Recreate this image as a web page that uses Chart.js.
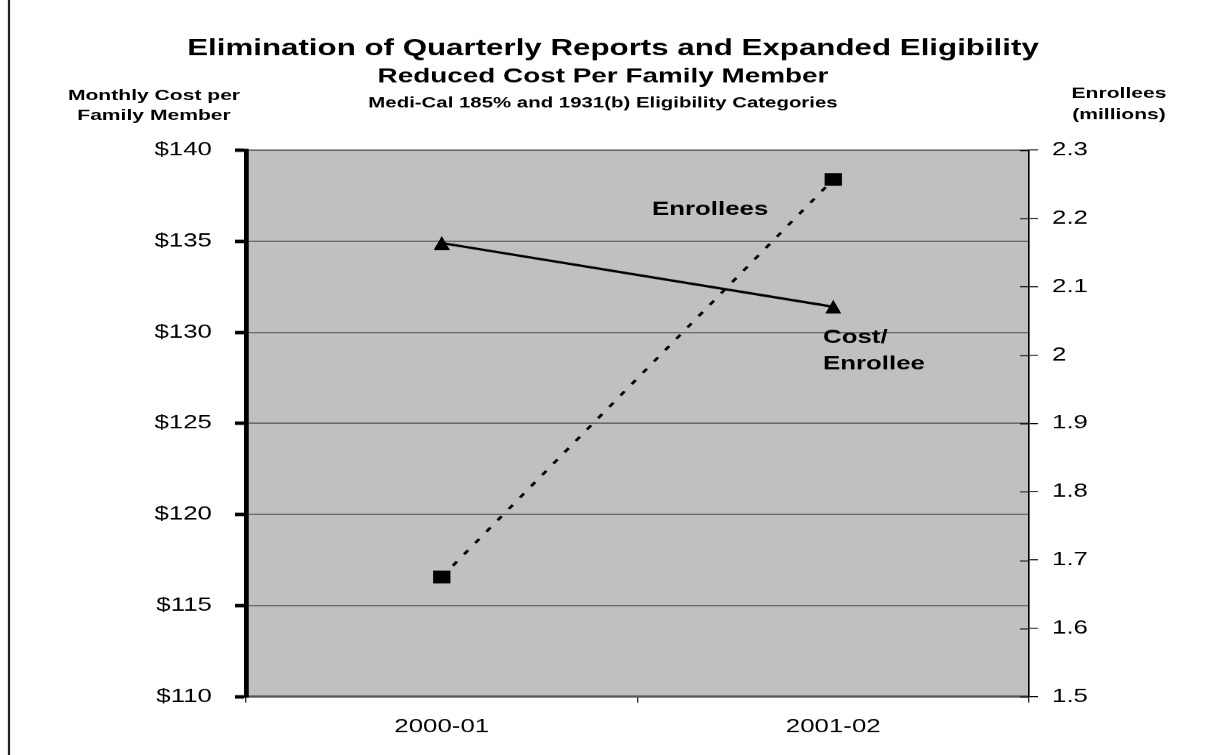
<!DOCTYPE html>
<html>
<head>
<meta charset="utf-8">
<script src="https://cdn.jsdelivr.net/npm/chart.js@4/dist/chart.umd.min.js"></script>
<style>
  html, body { margin: 0; padding: 0; background: #fff; overflow: hidden; }
  #wrap { position: relative; height: 755px; }
  /* the chart is laid out narrow and shown wide */
  #chart { display: block; width: 1212px !important; height: 755px !important; }
</style>
</head>
<body>
<div id="wrap"><canvas id="chart"></canvas></div>
<script>
// ---- data ----
const years = ['2000-01', '2001-02'];
const costPerEnrollee = [134.9, 131.4];      // $ per family member per month
const enrollees = [1.675, 2.257];            // millions
const costTicks = [110, 115, 120, 125, 130, 135, 140];
const enrolleeTicks = [1.5, 1.6, 1.7, 1.8, 1.9, 2, 2.1, 2.2, 2.3];
const titleLines = ['Elimination of Quarterly Reports and Expanded Eligibility',
                    'Reduced Cost Per Family Member'];
const subtitle = 'Medi-Cal 185% and 1931(b) Eligibility Categories';
const leftAxisTitle = ['Monthly Cost per', 'Family Member'];
const rightAxisTitle = ['Enrollees', '(millions)'];
const enrolleeLabel = 'Enrollees';
const costLabel = ['Cost/', 'Enrollee'];

// ---- geometry ----
const W = 1212, H = 755;
const SX = 1.36;                 // horizontal stretch of the whole chart
const hx = px => px / SX;        // page x -> chart x
const FONT = '"Liberation Sans", Arial, Helvetica, sans-serif';
const PLOT = { left: 246, right: 1029, top: 150, bottom: 696 };

document.getElementById('wrap').style.width = (W / SX + 0.001) + 'px';

// isosceles triangle marker, rendered at high resolution
function triangleMarker(w, h) {
  const k = 4;
  const c = document.createElement('canvas');
  c.width = Math.round(w * SX * k); c.height = Math.round(h * k);
  const g = c.getContext('2d');
  g.fillStyle = '#000';
  g.beginPath();
  g.moveTo(0, c.height); g.lineTo(c.width / 2, 0); g.lineTo(c.width, c.height);
  g.closePath(); g.fill();
  const img = new Image();
  img.width = w; img.height = h;
  img.src = c.toDataURL();
  return img;
}

const chartDecor = {
  id: 'chartDecor',
  beforeDraw(chart) {
    const { ctx, chartArea: a } = chart;
    ctx.save();
    ctx.fillStyle = '#C0C0C0';
    ctx.fillRect(a.left, a.top, a.right - a.left, a.bottom - a.top);
    ctx.restore();
  },
  beforeDatasetsDraw(chart) {
    // right axis tick marks also reach into the plot
    const { ctx, chartArea: a } = chart;
    const s = chart.scales.yEnr;
    ctx.save();
    ctx.strokeStyle = '#000';
    ctx.lineWidth = 1;
    s.ticks.forEach(t => {
      const y = Math.round(s.getPixelForValue(t.value)) + 0.5;
      ctx.beginPath();
      ctx.moveTo(a.right - hx(9), y); ctx.lineTo(a.right, y);
      ctx.stroke();
    });
    ctx.restore();
  },
  afterDraw(chart) {
    const { ctx } = chart;
    ctx.save();
    ctx.fillStyle = '#000';
    ctx.textBaseline = 'alphabetic';

    // frame line on the left
    ctx.strokeStyle = '#222';
    ctx.lineWidth = hx(2.2);
    ctx.beginPath(); ctx.moveTo(hx(9), 0); ctx.lineTo(hx(9), H); ctx.stroke();

    // titles
    ctx.textAlign = 'center';
    ctx.font = `bold 23px ${FONT}`;
    ctx.fillText(titleLines[0], hx(613), 55);
    ctx.font = `bold 20.5px ${FONT}`;
    ctx.fillText(titleLines[1], hx(603), 82);
    ctx.font = `bold 15px ${FONT}`;
    ctx.fillText(subtitle, hx(603), 107);

    // axis titles
    ctx.font = `bold 15.5px ${FONT}`;
    ctx.fillText(leftAxisTitle[0], hx(154), 100);
    ctx.fillText(leftAxisTitle[1], hx(154), 120);
    ctx.fillText(rightAxisTitle[0], hx(1119), 98);
    ctx.fillText(rightAxisTitle[1], hx(1119), 119);

    // series labels
    ctx.font = `bold 19px ${FONT}`;
    ctx.textAlign = 'left';
    ctx.fillText(enrolleeLabel, hx(652), 215);
    ctx.fillText(costLabel[0], hx(823), 343);
    ctx.fillText(costLabel[1], hx(823), 369);
    ctx.restore();
  }
};

function build(marker) {
  new Chart(document.getElementById('chart'), {
    type: 'line',
    data: {
      labels: years,
      datasets: [
        {
          label: 'Cost/Enrollee',
          data: costPerEnrollee,
          yAxisID: 'yCost',
          borderColor: '#000',
          backgroundColor: '#000',
          borderWidth: 2.4,
          pointStyle: marker,
          pointRadius: 8,
          tension: 0,
          fill: false
        },
        {
          label: 'Enrollees',
          data: enrollees,
          yAxisID: 'yEnr',
          borderColor: '#000',
          backgroundColor: '#000',
          borderWidth: 2.3,
          borderDash: [5, 9],
          pointStyle: 'rect',
          pointRadius: 9,
          pointBorderWidth: 0,
          tension: 0,
          fill: false
        }
      ]
    },
    options: {
      responsive: true,
      maintainAspectRatio: false,
      devicePixelRatio: SX,
      animation: false,
      events: [],
      layout: { padding: { top: PLOT.top, left: 0, right: 0, bottom: 0 } },
      plugins: { legend: { display: false }, title: { display: false }, tooltip: { enabled: false } },
      scales: {
        x: {
          type: 'category',
          offset: true,
          grid: { offset: true, drawOnChartArea: false, color: '#333', lineWidth: 1, tickLength: 6 },
          border: { color: '#555', width: 2 },
          ticks: { color: '#000', font: { family: FONT, size: 19 }, padding: 13, maxRotation: 0 },
          afterFit(s) { s.height = H - PLOT.bottom; }
        },
        yCost: {
          position: 'left',
          min: 110, max: 140,
          afterBuildTicks(s) { s.ticks = costTicks.map(v => ({ value: v })); },
          grid: { color: '#6a6a6a', lineWidth: 1.5, tickColor: '#000', tickWidth: 3.5, tickLength: hx(11) },
          border: { color: '#000', width: 3.5 },
          ticks: { color: '#000', font: { family: FONT, size: 19 }, padding: 17,
                   callback: v => '$' + v },
          afterFit(s) { s.width = hx(PLOT.left); }
        },
        yEnr: {
          position: 'right',
          min: 1.5, max: 2.3,
          afterBuildTicks(s) { s.ticks = enrolleeTicks.map(v => ({ value: v })); },
          grid: { drawOnChartArea: false, color: '#000', lineWidth: 1, tickLength: hx(9) },
          border: { color: '#000', width: 1.2 },
          ticks: { color: '#000', font: { family: FONT, size: 19 }, padding: hx(14),
                   callback: v => String(Number(v.toFixed(1))) },
          afterFit(s) { s.width = (W - PLOT.right) / SX; }
        }
      }
    },
    plugins: [chartDecor]
  });
}

const tri = triangleMarker(12.8, 14.3);
if (tri.complete) build(tri); else tri.onload = () => build(tri);
</script>
</body>
</html>
